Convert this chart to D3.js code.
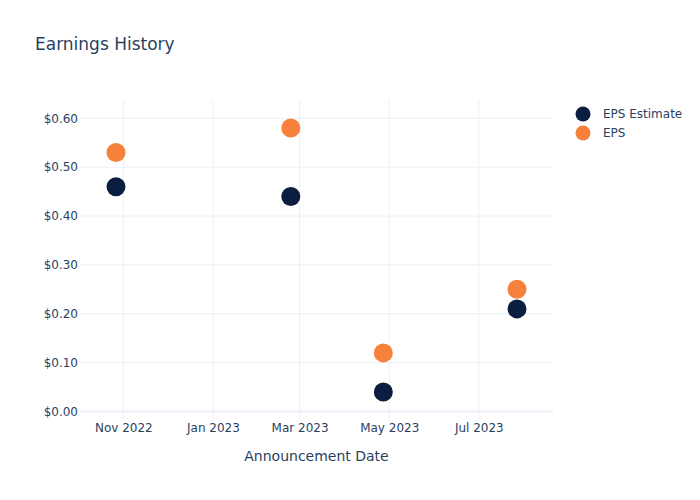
<!DOCTYPE html>
<html><head><meta charset="utf-8">
<script src="https://cdn.jsdelivr.net/npm/d3@7"></script>
<style>body{margin:0;background:#fff}svg{font-family:"DejaVu Sans",sans-serif}</style>
</head><body>
<svg id="c" width="700" height="500"></svg>
<script>
const dates = ["2022-10-27","2023-02-23","2023-04-27","2023-07-27"];
const epsEstimate = [0.46, 0.44, 0.04, 0.21];
const eps = [0.53, 0.58, 0.12, 0.25];
const seriesNames = ["EPS Estimate", "EPS"];
const seriesColors = ["#0b1e40", "#f6813a"];
const yTicks = [0, 0.1, 0.2, 0.3, 0.4, 0.5, 0.6];
const xTicks = ["2022-11-01","2023-01-01","2023-03-01","2023-05-01","2023-07-01"];
const xTickLabels = ["Nov 2022","Jan 2023","Mar 2023","May 2023","Jul 2023"];

const W = 700, H = 500;
const m = {l: 80, r: 147, t: 100, b: 80};
const pw = W - m.l - m.r, ph = H - m.t - m.b;
const parse = d3.utcParse("%Y-%m-%d");
const xd = dates.map(parse);
const svg = d3.select("#c");
const text = "#2a3f5f", grid = "#ebf0f8";
const ff = "'DejaVu Sans',sans-serif";

// padded domains (Plotly-like marker padding)
const padX = 36, padY = 28;
const [x0, x1] = d3.extent(xd);
const span = x1 - x0;
const pxPer = span / (pw - 2 * padX);
const x = d3.scaleUtc().domain([new Date(+x0 - padX * pxPer), new Date(+x1 + padX * pxPer)]).range([m.l, m.l + pw]);
const allY = epsEstimate.concat(eps);
const [y0, y1] = d3.extent(allY);
const yPer = (y1 - y0) / (ph - 2 * padY);
const y = d3.scaleLinear().domain([y0 - padY * yPer, y1 + padY * yPer]).range([m.t + ph, m.t]);

// grid
const g = svg.append("g");
g.selectAll(".xg").data(xTicks.map(parse)).enter().append("line")
  .attr("x1", d => x(d)).attr("x2", d => x(d)).attr("y1", m.t).attr("y2", m.t + ph)
  .attr("stroke", grid).attr("stroke-width", 1);
g.selectAll(".yg").data(yTicks).enter().append("line")
  .attr("x1", m.l).attr("x2", m.l + pw).attr("y1", d => y(d)).attr("y2", d => y(d))
  .attr("stroke", grid).attr("stroke-width", d => d === 0 ? 2 : 1);

// axes
const xAxis = d3.axisBottom(x).tickValues(xTicks.map(parse)).tickFormat((d, i) => xTickLabels[i]).tickSize(0).tickPadding(3);
const xa = svg.append("g").attr("transform", `translate(0,${m.t + ph})`).call(xAxis);
xa.select(".domain").remove();
xa.selectAll("text").attr("fill", text).attr("font-size", 12).attr("font-family", ff);

const yAxis = d3.axisLeft(y).tickValues(yTicks).tickFormat(d => "$" + d.toFixed(2)).tickSize(0).tickPadding(2);
const ya = svg.append("g").attr("transform", `translate(${m.l},0)`).call(yAxis);
ya.select(".domain").remove();
ya.selectAll("text").attr("fill", text).attr("font-size", 12).attr("font-family", ff);

// points
const series = [epsEstimate, eps];
series.forEach((vals, si) => {
  svg.append("g").selectAll("circle").data(vals).enter().append("circle")
    .attr("cx", (d, i) => x(xd[i])).attr("cy", d => y(d)).attr("r", 9.5)
    .attr("fill", seriesColors[si]);
});

// title
svg.append("text").attr("x", 35).attr("y", 50).attr("fill", text).attr("font-size", 17).text("Earnings History");
svg.append("text").attr("x", m.l + pw / 2).attr("y", 461).attr("text-anchor", "middle").attr("fill", text).attr("font-size", 14).text("Announcement Date");

// legend
const lg = svg.append("g");
seriesNames.forEach((n, i) => {
  const yy = 114 + i * 19;
  lg.append("circle").attr("cx", 583).attr("cy", yy).attr("r", 7.5).attr("fill", seriesColors[i]);
  lg.append("text").attr("x", 603).attr("y", yy + 4).attr("fill", text).attr("font-size", 12).text(n);
});
</script>
</body></html>
